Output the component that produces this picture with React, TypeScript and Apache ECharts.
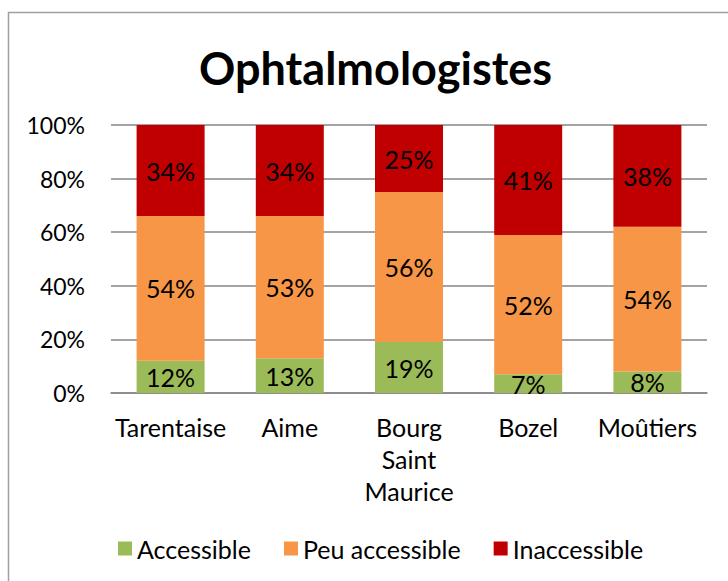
import React, { useEffect, useRef } from "react";
import * as echarts from "echarts";

const categories = ["Tarentaise", "Aime", "Bourg Saint Maurice", "Bozel", "Moûtiers"];
const accessible = [12, 13, 19, 7, 8];
const peuAccessible = [54, 53, 56, 52, 54];
const inaccessible = [34, 34, 25, 41, 38];
const seriesNames = ["Accessible", "Peu accessible", "Inaccessible"];
const colors = ["#9BBB59", "#F79646", "#C00000"];

const FONT = "Lato";

export default function App() {
  const ref = useRef<HTMLDivElement>(null);
  useEffect(() => {
    if (!ref.current) return;
    const chart = echarts.init(ref.current, null, { renderer: "svg" });
    const dataSets = [accessible, peuAccessible, inaccessible];
    chart.setOption({
      animation: false,
      backgroundColor: "#fff",
      textStyle: { fontFamily: FONT },
      title: {
        text: "Ophtalmologistes",
        left: 194,
        top: 40,
        textStyle: { fontFamily: FONT, fontSize: 45, fontWeight: "bold", color: "#000" },
      },
      graphic: [
        {
          type: "rect",
          shape: { x: 8.5, y: 12.5, width: 800, height: 700 },
          style: { fill: "none", stroke: "#a0a0a0", lineWidth: 1.5 },
          silent: true,
        },
      ],
      legend: {
        left: 113,
        top: 531,
        itemWidth: 14,
        itemHeight: 14,
        itemGap: 33,
        icon: "rect",
        textStyle: { fontFamily: FONT, fontSize: 25, color: "#000" },
        data: seriesNames,
      },
      grid: { left: 111, right: 21, top: 125, bottom: 188, containLabel: false },
      xAxis: {
        type: "category",
        data: categories,
        axisLine: { lineStyle: { color: "#868686", width: 1.5 } },
        axisTick: { show: false },
        axisLabel: {
          fontFamily: FONT,
          fontSize: 25,
          color: "#000",
          lineHeight: 32,
          margin: 18,
          interval: 0,
          formatter: (v: string) => v.split(" ").join("\n"),
        },
      },
      yAxis: {
        type: "value",
        min: 0,
        max: 100,
        interval: 20,
        axisLine: { show: false },
        axisTick: { show: false },
        splitLine: { lineStyle: { color: "#868686", width: 1.5 } },
        axisLabel: {
          fontFamily: FONT,
          fontSize: 23,
          color: "#000",
          margin: 26,
          formatter: (v: number) => v + "%",
        },
      },
      series: dataSets.map((d, i) => ({
        name: seriesNames[i],
        type: "bar",
        stack: "total",
        barWidth: 68,
        data: d,
        itemStyle: { color: colors[i] },
        label: {
          show: true,
          position: "inside",
          fontFamily: FONT,
          fontSize: 25,
          color: "#000",
          formatter: (p: any) => p.value + "%",
        },
      })),
    });
    return () => chart.dispose();
  }, []);
  return (
    <div
      ref={ref}
      style={{ position: "absolute", left: 0, top: 0, width: 728, height: 581 }}
    />
  );
}
